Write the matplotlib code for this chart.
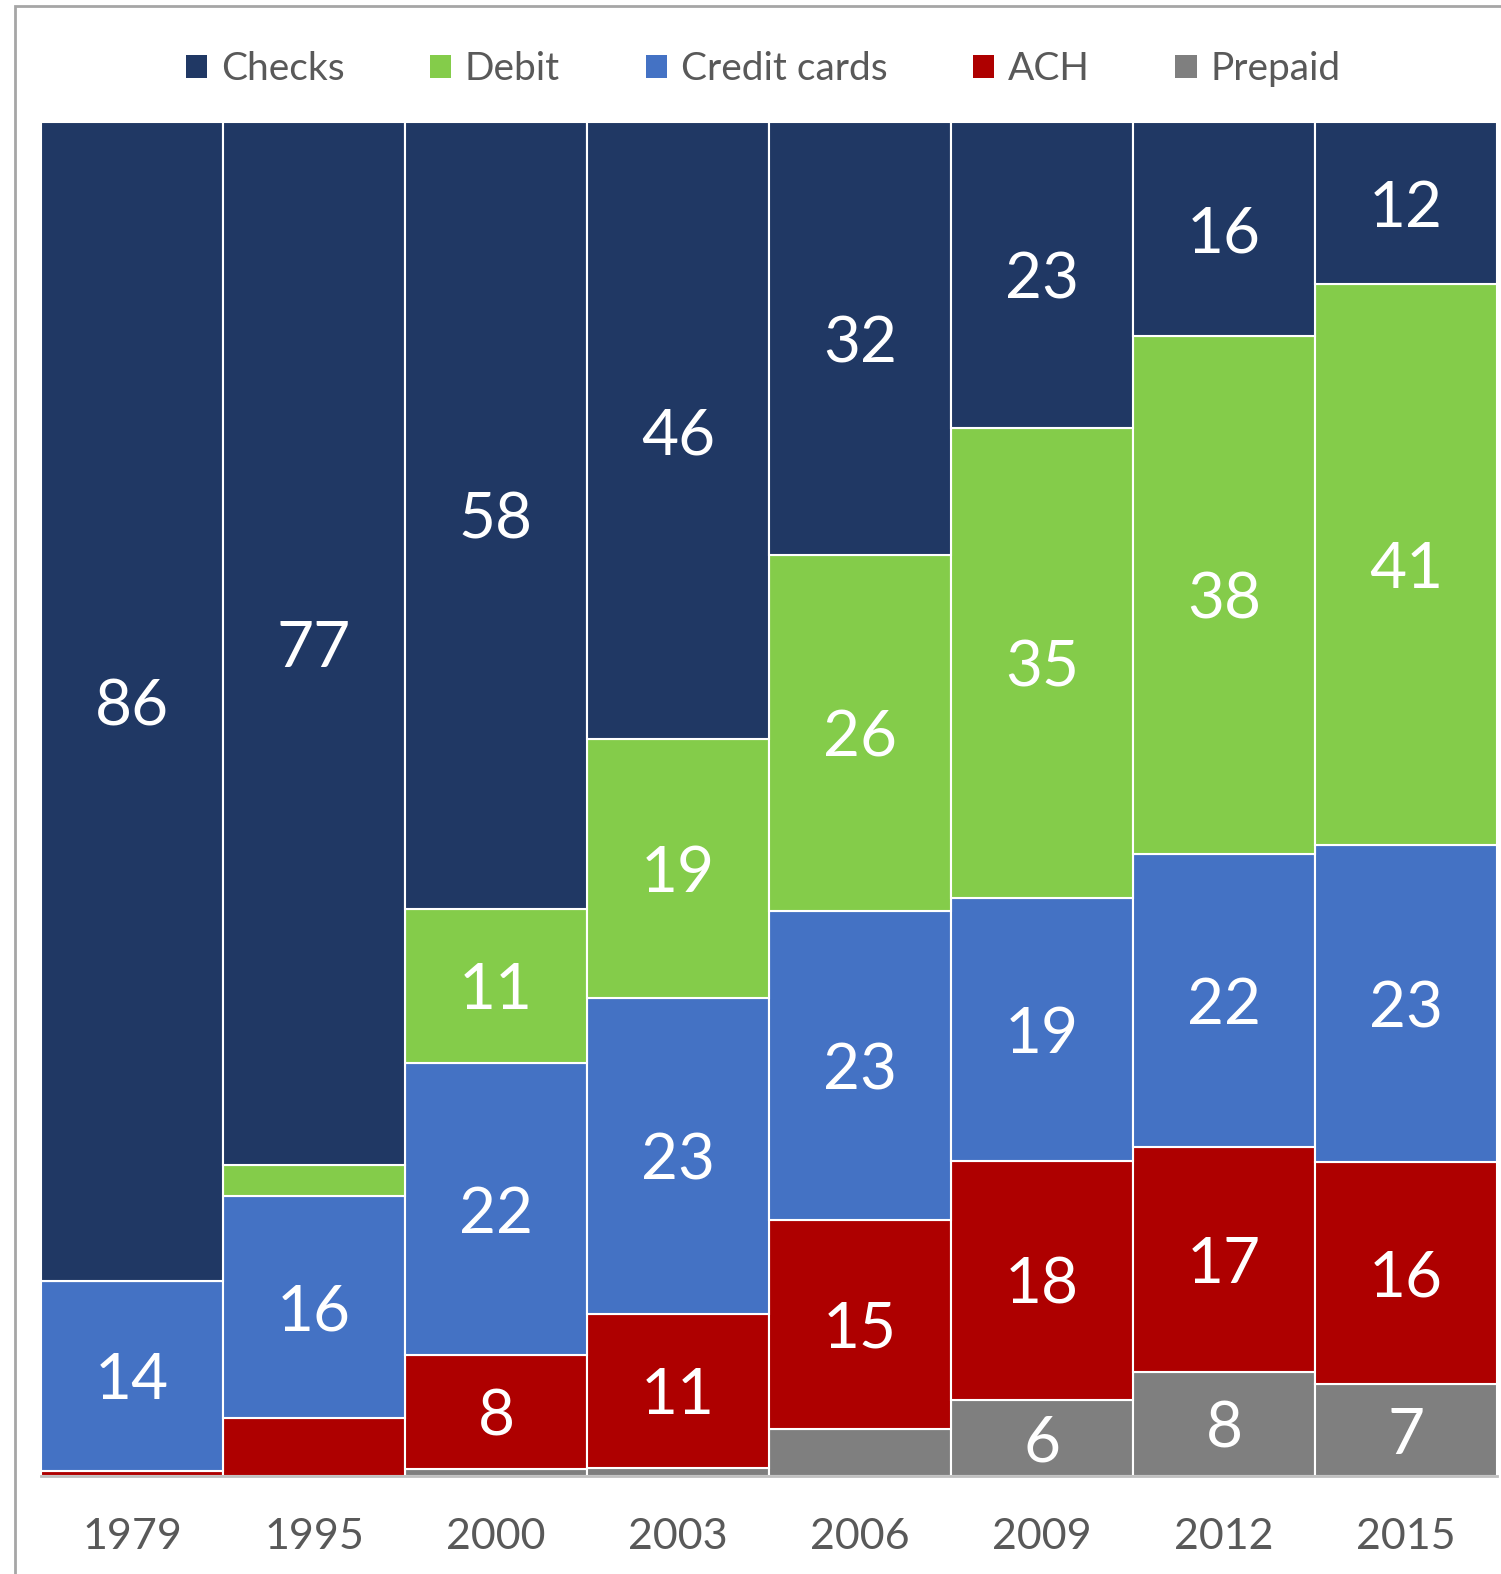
import numpy as np
import matplotlib
matplotlib.use("Agg")
import matplotlib.pyplot as plt
from matplotlib.patches import Patch, Rectangle

years = ["1979", "1995", "2000", "2003", "2006", "2009", "2012", "2015"]
# shares in percent
prepaid = [0.0, 0.0, 0.5, 0.6, 3.5, 5.6, 7.7, 6.8]
ach = [0.4, 4.3, 8.4, 11.4, 15.4, 17.7, 16.6, 16.4]
credit = [14.0, 16.4, 21.6, 23.3, 22.8, 19.4, 21.7, 23.4]
debit = [0.0, 2.3, 11.4, 19.1, 26.3, 34.7, 38.3, 41.4]
checks = [85.6, 77.0, 58.1, 45.6, 32.0, 22.6, 15.8, 12.0]

series = [
    ("Prepaid", prepaid, "#7f7f7f"),
    ("ACH", ach, "#ae0000"),
    ("Credit cards", credit, "#4472c4"),
    ("Debit", debit, "#84cc4a"),
    ("Checks", checks, "#203864"),
]

plt.rcParams["font.family"] = ["Lato", "DejaVu Sans"]

fig = plt.figure(figsize=(15.01, 15.74), dpi=100)
ax = fig.add_axes([41 / 1501, 98 / 1574, 1456 / 1501, 1354 / 1574])

x = np.arange(len(years))
totals = np.sum([s[1] for s in series], axis=0)
bottom = np.zeros(len(years))
for name, vals, col in series:
    pct = np.array(vals) / totals * 100
    ax.bar(x, pct, width=1.0, bottom=bottom, color=col, edgecolor="white", linewidth=1.5)
    for xi, b, v in zip(x, bottom, pct):
        if v >= 5:
            ax.annotate(f"{round(v)}", (xi, b + v / 2), xytext=(0, -4),
                        textcoords="offset points", ha="center", va="center",
                        color="white", fontsize=46)
    bottom += pct

ax.set_xlim(-0.5, len(years) - 0.5)
ax.set_ylim(0, 100)
ax.set_yticks([])
ax.set_xticks(x)
ax.set_xticklabels(years, fontsize=31, color="#595959")
ax.tick_params(axis="x", length=0, pad=30)
for sp in ["top", "left", "right"]:
    ax.spines[sp].set_visible(False)
ax.spines["bottom"].set_color("#bfbfbf")
ax.spines["bottom"].set_linewidth(2)

handles = [Patch(facecolor=c, edgecolor="none", label=n) for n, _, c in reversed(series)]
leg = fig.legend(handles=handles, loc="center", bbox_to_anchor=(763 / 1501, 1 - 69 / 1574),
                 ncol=5, frameon=False, fontsize=28, handlelength=0.55, handleheight=0.55,
                 handletextpad=0.35, columnspacing=2.2)
for t in leg.get_texts():
    t.set_color("#595959")

# outer frame of the original chart (cropped at right/bottom)
fig.patches.append(Rectangle((15 / 1501, -0.1), 1.2, 1.1 - 6 / 1574, transform=fig.transFigure,
                             fill=False, edgecolor="#a6a6a6", linewidth=2))

fig.savefig("out.png", dpi=100)
